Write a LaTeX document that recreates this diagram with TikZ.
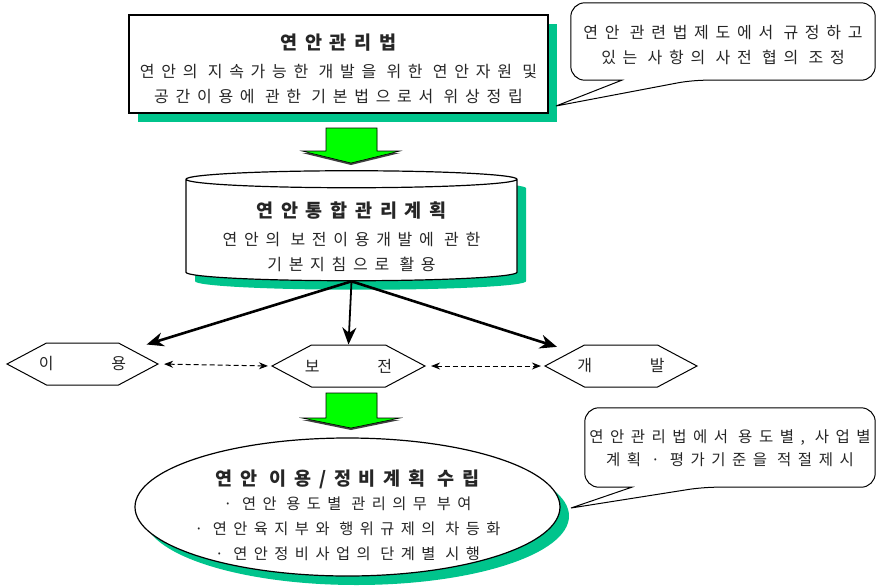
\documentclass[tikz,border=0pt]{standalone}
\usepackage{fontspec}
\newfontfamily\kr[LetterSpace=42]{Noto Sans CJK KR}
\usetikzlibrary{arrows.meta,shapes.geometric,shapes.symbols,shadows,positioning}
\definecolor{shadowgreen}{RGB}{0,196,140}
\definecolor{arrowgreen}{RGB}{0,255,0}

\begin{document}
\begin{tikzpicture}[x=1pt, y=-1pt,
    txt/.style={font=\kr\fontsize{16}{25}\selectfont, text=black!85, align=center, inner sep=0pt},
    shad/.style={drop shadow={shadow xshift=9pt, shadow yshift=-9pt, fill=shadowgreen, opacity=1}},
    lawbox/.style={draw, line width=1.8pt, fill=white, shad},
    drum/.style={cylinder, shape border rotate=90, aspect=0.1, inner xsep=85pt, draw, line width=1.2pt, fill=white, shad},
    hexa/.style={txt, signal, signal to=west and east, signal pointer angle=56, draw, line width=1pt, minimum height=42pt},
    oval/.style={ellipse, draw, line width=1.2pt, fill=white, shad},
    fat/.style={fill=arrowgreen, draw=black, line width=0.6pt, drop shadow={shadow xshift=0pt, shadow yshift=-2pt, fill=black!75, opacity=1}},
    bubble/.style={draw, line width=1pt},
    arr/.style={-{Stealth[length=17pt, width=14pt]}, line width=2.6pt},
    darr/.style={{Stealth[length=9pt, width=7pt]}-{Stealth[length=9pt, width=7pt]}, dash pattern=on 5pt off 3pt, line width=1pt, shorten <=5pt, shorten >=3pt}
]
\useasboundingbox (0,0) rectangle (881,587);
\newcommand\ttl[2][3pt]{{\bfseries\fontsize{18.5}{22}\selectfont #2}\\[#1]}
\newcommand\pair[2]{\makebox[0pt]{#1\hspace{3.6em}#2}}

% top: law box and its note
\node[lawbox, minimum width=419pt, minimum height=98pt] (law) at (338.5,64) {};
\node[txt] (lawtext) at ([yshift=-5pt]law.center)
    {\ttl{연안관리법}연안의 지속가능한 개발을 위한 연안자원 및\\공간이용에 관한 기본법으로서 위상정립};
\node[minimum width=304pt, minimum height=77pt] (lawnote) at (723,41.5) {};
\node[txt] (lawnotetext) at ([yshift=-4pt]lawnote.center)
    {연안 관련법제도에서 규정하고\\있는 사항의 사전 협의 조정};
\coordinate (lawtip) at (556,106);
\draw[bubble] ([xshift=51pt]lawnote.south west) [rounded corners=14pt] -- (lawnote.south west)
    -- (lawnote.north west) -- (lawnote.north east) -- (lawnote.south east)
    -- ([xshift=121pt]lawnote.south west) [sharp corners] -- (lawtip) -- cycle;

% green arrow down
\coordinate (tip1) at (351,163);
\draw[fat] (tip1) -- ++(-49,-12) -- ++(24,0) -- ++(0,-23) -- ++(51,0) -- ++(0,23) -- ++(23,0) -- cycle;

% plan
\node[drum, minimum width=331pt, minimum height=110pt] (plan) at (351.5,234) {};
\node[txt] (plantext) at ([yshift=-3pt]plan.center)
    {\ttl{연안통합관리계획}연안의 보전이용개발에 관한\\기본지침으로 활용};

% three ways
\node[hexa, minimum width=151pt] (use) at (82.5,364) {\pair{이}{용}};
\node[hexa, minimum width=153pt] (keep) at (348.5,366) {\pair{보}{전}};
\node[hexa, minimum width=152pt] (dev) at (621,366) {\pair{개}{발}};

\draw[arr] (plan.south) -- ([xshift=28pt, yshift=-2pt]use.north east);
\draw[arr, line width=1.8pt] (plan.south) -- (keep.north);
\draw[arr] (plan.south) -- ([xshift=-27pt, yshift=-2pt]dev.north west);
\draw[darr] (use.east) -- (keep.west);
\draw[darr] (keep.east) -- (dev.west);

\coordinate (tip2) at (351,428);
\draw[fat] (tip2) -- ++(-49,-10) -- ++(24,0) -- ++(0,-25) -- ++(51,0) -- ++(0,25) -- ++(23,0) -- cycle;

% goal and its note
\node[oval, minimum width=425pt, minimum height=138pt] (goal) at (347.5,507) {};
\node[txt, font=\kr\fontsize{15.3}{25}\selectfont] (goaltext) at ([yshift=-8pt]goal.center)
    {\ttl[-1pt]{연안 이용/정비계획 수립}· 연안 용도별 관리의무 부여\\· 연안육지부와 행위규제의 차등화\\· 연안정비사업의 단계별 시행};
\node[minimum width=290pt, minimum height=79pt] (goalnote) at (730,447.5) {};
\node[txt, font=\kr\fontsize{15.5}{23}\selectfont] (goalnotetext) at ([yshift=-1pt]goalnote.center)
    {연안관리법에서 용도별, 사업별\\계획 · 평가기준을 적절제시};
\coordinate (goaltip) at (571,508);
\draw[bubble] ([xshift=47pt]goalnote.south west) [rounded corners=14pt] -- (goalnote.south west)
    -- (goalnote.north west) -- (goalnote.north east) -- (goalnote.south east)
    -- ([xshift=118pt]goalnote.south west) [sharp corners] -- (goaltip) -- cycle;
\end{tikzpicture}
\end{document}
